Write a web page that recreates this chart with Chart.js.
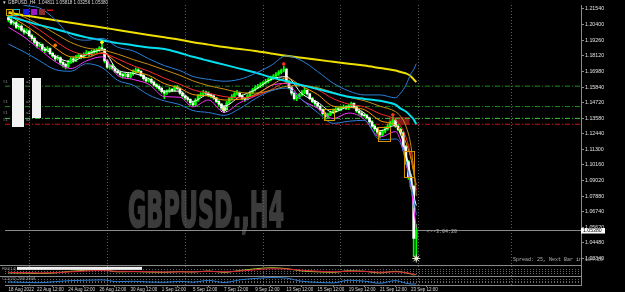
<!DOCTYPE html>
<html>
<head>
<meta charset="utf-8">
<script src="https://cdn.jsdelivr.net/npm/chart.js@4.4.1/dist/chart.umd.min.js"></script>
<style>
html,body{margin:0;padding:0;background:#000;overflow:hidden}
#c{display:block}
</style>
</head>
<body>
<canvas id="c" width="625" height="292"></canvas>
<script>
// GBPUSD H4, 18 Aug - 26 Sep 2022, one entry per bar
const firstOpen = 1.2095;
const closes = [
  1.2075,1.2050,1.2055,1.2020,1.2030,1.2000, 1.1985,1.1995,1.1960,1.1940,1.1910,1.1885,
  1.1895,1.1860,1.1850,1.1865,1.1830,1.1810, 1.1790,1.1800,1.1765,1.1750,1.1735,1.1770,
  1.1790,1.1780,1.1805,1.1815,1.1800,1.1825, 1.1835,1.1820,1.1845,1.1840,1.1855,1.1870,
  1.1860,1.1775,1.1730,1.1740,1.1720,1.1700, 1.1690,1.1675,1.1665,1.1680,1.1660,1.1680,
  1.1695,1.1710,1.1700,1.1670,1.1645,1.1630, 1.1640,1.1620,1.1600,1.1590,1.1575,1.1550,
  1.1540,1.1555,1.1565,1.1560,1.1585,1.1575, 1.1540,1.1520,
  1.1505,1.1495,1.1470,1.1455,1.1490,1.1520,1.1530,1.1545,1.1540,1.1525,1.1520,1.1505,1.1480,1.1460,1.1435,1.1420,
  1.1470,1.1500,1.1515,1.1535,1.1545,1.1520,1.1500,1.1495,1.1520,1.1545,1.1565,1.1580,1.1590,1.1600,1.1615,1.1625,
  1.1640,1.1650,1.1665,1.1680,1.1690,1.1705,1.1715,1.1625,1.1580,1.1540,1.1500,1.1510,1.1530,1.1545,1.1560,1.1535,
  1.1500,1.1480,1.1465,1.1445,1.1420,1.1390,1.1370,1.1385,1.1400,1.1410,1.1425,1.1420,1.1435,1.1440,1.1430,1.1450,
  1.1465,1.1440,1.1410,1.1395,1.1380,1.1375,1.1360,1.1330,1.1300,1.1280,1.1255,1.1235,1.1260,1.1280,1.1300,1.1320,1.1340,1.1300,1.1275,1.1250,
  1.1150,1.1040,1.0930,1.0860,1.0481,1.0538
];
const highs = [
  1.2110,1.2085,1.2070,1.2065,1.2045,1.2040, 1.2015,1.2010,1.2000,1.1970,1.1950,1.1920,
  1.1910,1.1900,1.1875,1.1880,1.1870,1.1840, 1.1820,1.1815,1.1805,1.1775,1.1760,1.1780,
  1.1800,1.1805,1.1815,1.1830,1.1825,1.1835, 1.1850,1.1845,1.1855,1.1860,1.1865,1.1880,
  1.1900,1.1865,1.1785,1.1750,1.1750,1.1730, 1.1715,1.1700,1.1685,1.1690,1.1690,1.1690,
  1.1710,1.1725,1.1720,1.1705,1.1680,1.1655, 1.1650,1.1650,1.1630,1.1610,1.1600,1.1585,
  1.1560,1.1565,1.1580,1.1575,1.1595,1.1595, 1.1580,1.1550,
  1.1525,1.1515,1.1500,1.1480,1.1500,1.1530,1.1545,1.1560,1.1555,1.1550,1.1535,1.1530,1.1510,1.1490,1.1465,1.1445,
  1.1480,1.1510,1.1530,1.1545,1.1560,1.1550,1.1530,1.1510,1.1530,1.1555,1.1575,1.1595,1.1605,1.1615,1.1625,1.1640,
  1.1650,1.1665,1.1675,1.1690,1.1705,1.1715,1.1738,1.1720,1.1635,1.1590,1.1550,1.1525,1.1540,1.1560,1.1575,1.1565,
  1.1540,1.1510,1.1490,1.1475,1.1450,1.1425,1.1400,1.1395,1.1410,1.1425,1.1435,1.1435,1.1445,1.1455,1.1450,1.1460,
  1.1475,1.1470,1.1445,1.1420,1.1405,1.1390,1.1385,1.1365,1.1340,1.1310,1.1290,1.1265,1.1270,1.1295,1.1315,1.1335,1.1370,1.1350,1.1310,1.1285,
  1.1260,1.1160,1.1050,1.0950,1.0870,1.0582
];
const lows = [
  1.2060,1.2040,1.2035,1.2010,1.2005,1.1990, 1.1970,1.1975,1.1950,1.1925,1.1900,1.1870,
  1.1875,1.1850,1.1835,1.1840,1.1820,1.1800, 1.1775,1.1780,1.1750,1.1730,1.1717,1.1725,
  1.1760,1.1765,1.1770,1.1795,1.1790,1.1795, 1.1815,1.1810,1.1815,1.1830,1.1835,1.1845,
  1.1850,1.1760,1.1720,1.1715,1.1710,1.1690, 1.1680,1.1660,1.1650,1.1655,1.1648,1.1650,
  1.1670,1.1685,1.1690,1.1660,1.1635,1.1620, 1.1620,1.1610,1.1590,1.1575,1.1560,1.1540,
  1.1500,1.1530,1.1545,1.1550,1.1555,1.1565, 1.1530,1.1510,
  1.1490,1.1480,1.1455,1.1444,1.1450,1.1480,1.1510,1.1520,1.1530,1.1515,1.1505,1.1495,1.1470,1.1445,1.1425,1.1405,
  1.1415,1.1460,1.1490,1.1505,1.1525,1.1510,1.1490,1.1480,1.1490,1.1515,1.1535,1.1555,1.1570,1.1580,1.1590,1.1605,
  1.1615,1.1630,1.1640,1.1655,1.1670,1.1680,1.1695,1.1610,1.1570,1.1525,1.1490,1.1485,1.1500,1.1520,1.1535,1.1525,
  1.1490,1.1470,1.1450,1.1435,1.1410,1.1380,1.1351,1.1360,1.1375,1.1390,1.1400,1.1410,1.1410,1.1425,1.1420,1.1420,
  1.1440,1.1430,1.1400,1.1385,1.1370,1.1365,1.1350,1.1320,1.1290,1.1265,1.1240,1.1211,1.1225,1.1250,1.1270,1.1290,1.1310,1.1290,1.1265,1.1235,
  1.1130,1.1020,1.0910,1.0840,1.0350,1.0326
];

// indicator lines, read at these bars
const maBars   = [0,6,12,18,24,30,36,42,48,54,60,66,71,77,83,89,95,101,107,113,119,125,131,137,143,149,151,153,155,156,157];
const slowMA   = [1.2126,1.2108,1.2090,1.2072,1.2054,1.2036,1.2019,1.2001,1.1983,1.1965,1.1947,1.1930,1.1912,1.1894,1.1876,1.1862,1.1848,1.1830,1.1812,1.1798,1.1783,1.1769,1.1755,1.1741,1.1723,1.1705,1.1694,1.1684,1.1662,1.1641,1.1620];
const midMA    = [1.2101,1.2069,1.2036,1.2008,1.1976,1.1947,1.1926,1.1905,1.1890,1.1873,1.1862,1.1833,1.1805,1.1776,1.1748,1.1719,1.1691,1.1655,1.1627,1.1598,1.1570,1.1541,1.1513,1.1498,1.1484,1.1456,1.1427,1.1406,1.1370,1.1349,1.1313];
const bandUp   = [1.2240,1.2182,1.2161,1.2076,1.1954,1.1926,1.1940,1.1876,1.1848,1.1791,1.1741,1.1705,1.1662,1.1641,1.1627,1.1641,1.1684,1.1741,1.1812,1.1776,1.1698,1.1613,1.1556,1.1527,1.1527,1.1506,1.1541,1.1598,1.1684,1.1712,1.1755];
const bandDown = [1.1898,1.1841,1.1776,1.1712,1.1700,1.1755,1.1727,1.1634,1.1598,1.1527,1.1484,1.1456,1.1413,1.1399,1.1378,1.1427,1.1499,1.1556,1.1577,1.1491,1.1399,1.1320,1.1335,1.1342,1.1200,1.1206,1.1171,1.1043,1.0864,1.0772,1.0651];
const fastW    = [1.2085,1.1995,1.1900,1.1810,1.1770,1.1820,1.1855,1.1710,1.1685,1.1645,1.1555,1.1555,1.1480,1.1530,1.1445,1.1515,1.1565,1.1640,1.1660,1.1535,1.1475,1.1400,1.1440,1.1395,1.1265,1.1305,1.1240,1.1100,1.0930,1.0800,1.0720];
const fastO    = [1.2110,1.2040,1.1960,1.1870,1.1805,1.1800,1.1835,1.1760,1.1700,1.1670,1.1610,1.1575,1.1530,1.1520,1.1490,1.1495,1.1530,1.1595,1.1650,1.1590,1.1530,1.1445,1.1435,1.1420,1.1340,1.1305,1.1260,1.1180,1.1060,1.0960,1.0870];
const fastR    = [1.2125,1.2070,1.2000,1.1920,1.1850,1.1820,1.1830,1.1790,1.1740,1.1700,1.1650,1.1605,1.1565,1.1540,1.1515,1.1505,1.1520,1.1565,1.1615,1.1600,1.1565,1.1500,1.1460,1.1440,1.1390,1.1345,1.1300,1.1220,1.1080,1.0990,1.0830];
const fastG    = [1.2140,1.2095,1.2040,1.1975,1.1910,1.1870,1.1855,1.1825,1.1785,1.1750,1.1710,1.1670,1.1630,1.1595,1.1570,1.1545,1.1540,1.1560,1.1590,1.1595,1.1580,1.1545,1.1510,1.1485,1.1445,1.1405,1.1370,1.1300,1.1150,1.0980,1.0790];
const lowEnv   = [1.2020,1.1950,1.1860,1.1770,1.1720,1.1775,1.1805,1.1670,1.1640,1.1605,1.1515,1.1510,1.1440,1.1490,1.1400,1.1470,1.1520,1.1595,1.1610,1.1490,1.1430,1.1355,1.1395,1.1350,1.1220,1.1260,1.1190,1.1030,1.0850,1.0700,1.0560];

// sub windows
const oscA = [30,28,25,30,45,55,60,40,42,38,35,42,38,48,35,52,68,78,70,48,40,35,50,45,30,45,40,30,20,12,15];
const oscB = [35,33,30,32,40,48,52,45,44,41,38,40,40,44,40,47,58,68,66,55,46,40,45,44,36,40,38,32,25,18,16];
const cci  = [-80,-100,-120,-60,0,20,40,-60,-40,-80,-100,-40,-90,10,-110,40,120,170,140,-40,-100,-130,20,-30,-150,0,-60,-150,-190,-200,-180];
const oscLevels = [30,50,70];
const cciLevels = [-100,0,100];

// signals [bar, price]
const orangeSig = [[18,1.1889]];
const greenSig  = [[24,1.1767]];
const yellowSig = [[36,1.1911]];
const redSig    = [[106,1.1753],[148,1.1382]];
const sunSig    = [[83,1.1424],[157,1.0334]];

// levels and zones
const greenLevels = [1.1591, 1.1442];
const brightLevel = 1.1356;
const redLevel = 1.1313;
const lastPrice = 1.0538;
const boxFrom = [121.6, 142.2, 152.1];
const boxTo   = [125.4, 146.8, 155.9];
const boxHi   = [1.1424, 1.1295, 1.1115];
const boxLo   = [1.1345, 1.1194, 1.0922];
const zoneRed = [146.4, 154.4, 1.1366, 1.1309];

// axes
const priceTicks = [1.2154,1.2040,1.1926,1.1812,1.1698,1.1584,1.1472,1.1358,1.1244,1.1130,1.1016,1.0902,1.0788,1.0674,1.0562,1.0448,1.0334];
const timeBars = [0,11,23,35,47,59,71,83,95,107,119,131,143,155];
const timeLabels = ['18 Aug 2022','22 Aug 12:00','24 Aug 12:00','26 Aug 12:00','30 Aug 12:00','1 Sep 12:00','5 Sep 12:00','7 Sep 12:00','9 Sep 12:00','13 Sep 12:00','15 Sep 12:00','19 Sep 12:00','21 Sep 12:00','23 Sep 12:00'];
const gridBars = [7.8, 37.8, 67.8, 97.8, 127.7, 157.8, 193.3];

const X_MIN = -1.336, X_MAX = 220.42;

const opens = closes.map((c, i) => i === 0 ? firstOpen : closes[i - 1]);
const wickData = closes.map((c, i) => ({ x: i, y: [lows[i], highs[i]] }));
const bodyData = closes.map((c, i) => ({ x: i, y: [opens[i], c] }));
const bodyColors = closes.map((c, i) => c >= opens[i] ? '#00ff00' : '#ffffff');

function ma(vals, color, width, axis) {
    return {
        type: 'line', data: maBars.map((b, k) => ({ x: b, y: vals[k] })),
        borderColor: color, borderWidth: width, pointRadius: 0, tension: 0.35,
        cubicInterpolationMode: 'monotone', fill: false, yAxisID: axis || 'y', order: 3
    };
}
function hline(p, color, dash) {
    return {
        type: 'line', data: [{ x: X_MIN, y: p }, { x: X_MAX, y: p }],
        borderColor: color, borderWidth: 1, borderDash: dash, pointRadius: 0, yAxisID: 'y', order: 20
    };
}
function dots(list, color, r) {
    return {
        type: 'scatter', data: list.map(d => ({ x: d[0], y: d[1] })),
        backgroundColor: color, borderColor: color, pointRadius: r, borderWidth: 0, yAxisID: 'y', order: 1
    };
}

const datasets = [
    hline(greenLevels[0], '#1f8a1f', [5, 2, 1, 2]),
    hline(greenLevels[1], '#1f8a1f', [5, 2, 1, 2]),
    hline(brightLevel, '#3cc83c', [5, 2, 1, 2]),
    hline(redLevel, '#c81414', [5, 2, 1, 2]),
    hline(lastPrice, '#8c8c8c', []),
    { type: 'bar', data: wickData, backgroundColor: '#00ff00', barThickness: 1, grouped: false, order: 8, yAxisID: 'y' },
    { type: 'bar', data: bodyData, backgroundColor: bodyColors, barThickness: 2, grouped: false, minBarLength: 1, order: 7, yAxisID: 'y' },
    ma(bandUp, '#2a7fd8', 1),
    ma(bandDown, '#2a7fd8', 1),
    ma(slowMA, '#f0e000', 2),
    ma(midMA, '#00e0f0', 2),
    ma(fastG, '#c89010', 1),
    ma(fastR, '#ff2a2a', 1),
    ma(fastO, '#ff9a00', 1),
    ma(lowEnv, '#ff30ff', 1),
    ma(fastW, '#ffffff', 1),
    ma(oscB, '#e02040', 1, 'yr'),
    ma(oscA, '#a8c830', 1, 'yr'),
    ma(cci, '#2a7fd8', 1, 'yc'),
    dots(orangeSig, '#ff7a00', 1.8),
    dots(greenSig, '#00ff00', 1.8),
    dots(yellowSig, '#ffff00', 1.8),
    dots(redSig, '#ff3020', 1.8),
    { type: 'scatter', data: sunSig.map(d => ({ x: d[0], y: d[1] })), pointStyle: 'star', pointRadius: 4,
      borderColor: '#e8e8e8', borderWidth: 1, backgroundColor: 'transparent', yAxisID: 'y', order: 1 },
    dots(sunSig, '#ffff00', 2)
];

const decor = {
    id: 'decor',
    beforeDraw(chart) {
        const c = chart.ctx;
        c.save();
        c.fillStyle = '#000';
        c.fillRect(0, 0, chart.width, chart.height);
        c.restore();
    },
    beforeDatasetsDraw(chart) {
        const c = chart.ctx, a = chart.chartArea, xs = chart.scales.x, ys = chart.scales.y;
        c.save();
        // watermark
        const mark = 'GBPUSD.,H4';
        c.font = 'bold 50px "Liberation Sans Narrow", "DejaVu Sans Condensed", sans-serif';
        const w = c.measureText(mark).width;
        c.save();
        c.translate(128, 226.5);
        c.scale(156 / w, 1);
        c.fillStyle = '#3b3b3b';
        c.strokeStyle = '#3b3b3b';
        c.lineWidth = 2;
        c.lineJoin = 'round';
        c.textBaseline = 'alphabetic';
        c.fillText(mark, 0, 0);
        c.strokeText(mark, 0, 0);
        c.restore();
        // weekly grid
        c.strokeStyle = '#5c5c5c';
        c.lineWidth = 1;
        c.setLineDash([1, 2]);
        gridBars.forEach(b => {
            const x = Math.round(xs.getPixelForValue(b)) + 0.5;
            c.beginPath(); c.moveTo(x, a.top); c.lineTo(x, a.bottom); c.stroke();
        });
        // sub window levels
        c.strokeStyle = '#666';
        [['yr', oscLevels], ['yc', cciLevels]].forEach(([id, lv]) => {
            const s = chart.scales[id];
            lv.forEach(v => {
                const y = Math.round(s.getPixelForValue(v)) + 0.5;
                c.beginPath(); c.moveTo(a.left, y); c.lineTo(a.right, y); c.stroke();
            });
        });
        c.setLineDash([]);
        // separators
        c.strokeStyle = '#8a8a8a';
        ['yr', 'yc'].forEach(id => {
            const y = Math.round(chart.scales[id].top) + 0.5;
            c.beginPath(); c.moveTo(0, y); c.lineTo(a.right, y); c.stroke();
        });
        // red zone
        const zx0 = xs.getPixelForValue(zoneRed[0]), zx1 = xs.getPixelForValue(zoneRed[1]);
        const zy0 = ys.getPixelForValue(zoneRed[2]), zy1 = ys.getPixelForValue(zoneRed[3]);
        c.fillStyle = 'rgba(150,30,30,0.85)';
        c.fillRect(zx0, zy0, zx1 - zx0, zy1 - zy0);
        c.restore();
    },
    afterDraw(chart) {
        const c = chart.ctx, xs = chart.scales.x, ys = chart.scales.y;
        c.save();
        // zone boxes
        const boxColors = ['#c8a000', '#d89000', '#d89000'];
        c.lineWidth = 1;
        boxFrom.forEach((b, k) => {
            const x0 = xs.getPixelForValue(b), x1 = xs.getPixelForValue(boxTo[k]);
            const y0 = ys.getPixelForValue(boxHi[k]), y1 = ys.getPixelForValue(boxLo[k]);
            c.strokeStyle = boxColors[k];
            c.strokeRect(Math.round(x0) + 0.5, Math.round(y0) + 0.5, Math.round(x1 - x0), Math.round(y1 - y0));
        });
        c.textBaseline = 'middle';
        // header
        c.font = '4.6px "Liberation Sans"';
        c.fillStyle = '#d8d8d8';
        c.fillText('\u25BC GBPUSD.,H4  1.04811 1.05818 1.03256 1.05380', 2, 3);
        // object panel icons
        c.strokeStyle = '#c8a000'; c.strokeRect(6.5, 9.5, 6, 6);
        c.strokeStyle = '#00c8c8'; c.strokeRect(13.5, 9.5, 6, 6);
        c.fillStyle = '#1a1ae0'; c.fillRect(23, 9, 6, 6);
        c.fillStyle = '#9a18c8'; c.fillRect(31, 9, 6, 6);
        c.fillStyle = '#8a2c2c'; c.fillRect(39, 9, 6, 6);
        c.fillStyle = '#e01010'; c.fillRect(47, 9.5, 6, 1.5);
        // left object labels
        c.fillStyle = '#f2f2f2';
        c.fillRect(12, 78, 12, 49);
        c.fillRect(32, 78, 9, 40);
        c.font = '4px "Liberation Sans"';
        c.fillStyle = '#9a9a9a';
        [82, 102, 113, 120].forEach(y => { c.fillText('#1', 3, y); c.fillText('u2', 26, y); });
        // sub window captions
        const r = chart.scales.yr, q = chart.scales.yc;
        c.font = '4.2px "Liberation Sans"';
        c.fillStyle = '#a0a0a0';
        c.fillText('RSI(14)', 2, r.top + 3);
        c.fillStyle = '#f0f0f0';
        c.fillRect(17, r.top + 1.5, 125, 3);
        c.fillStyle = '#a0a0a0';
        c.fillText('CCI(20) 288.3308', 2, q.top + 3);
        // texts
        c.font = '5px "Liberation Mono"';
        c.fillStyle = '#b4b4b4';
        c.fillText('<--3:04:20', 427, ys.getPixelForValue(lastPrice) + 1.5);
        c.fillText('Spread: 25, Next Bar in 184:20', 513, 260);
        // last price tag
        const py = ys.getPixelForValue(lastPrice);
        c.fillStyle = '#ffffff';
        c.fillRect(581, py - 2.5, 24, 5.5);
        c.fillStyle = '#000';
        c.font = '5.2px "Liberation Sans"';
        c.fillText(lastPrice.toFixed(5), 583, py + 0.3);
        c.restore();
    }
};

const axisFont = { family: 'Liberation Sans', size: 5.3 };

new Chart(document.getElementById('c'), {
    type: 'line',
    data: { datasets },
    options: {
        responsive: false,
        animation: false,
        events: [],
        devicePixelRatio: 1,
        layout: { padding: 0 },
        plugins: { legend: { display: false }, tooltip: { enabled: false } },
        scales: {
            x: {
                type: 'linear', min: X_MIN, max: X_MAX, offset: false, position: 'bottom',
                afterBuildTicks: s => { s.ticks = timeBars.map(v => ({ value: v })); },
                afterFit: s => { s.height = 7; },
                ticks: { autoSkip: false, maxRotation: 0, align: 'start', padding: 0, color: '#d8d8d8',
                         font: { family: 'Liberation Sans', size: 4.5 }, callback: (v, i) => timeLabels[i] },
                grid: { drawOnChartArea: false, drawTicks: true, tickLength: 2, color: '#8a8a8a' },
                border: { color: '#8a8a8a' }
            },
            y: {
                type: 'linear', position: 'right', stack: 'win', stackWeight: 265,
                min: 1.0284, max: 1.2183,
                afterBuildTicks: s => { s.ticks = priceTicks.map(v => ({ value: v })); },
                afterFit: s => { s.width = 44; },
                ticks: { autoSkip: false, padding: 1, color: '#e0e0e0', font: axisFont, callback: v => v.toFixed(5) },
                grid: { drawOnChartArea: false, drawTicks: true, tickLength: 3, color: '#8a8a8a' },
                border: { color: '#8a8a8a' }
            },
            yr: {
                type: 'linear', position: 'right', stack: 'win', stackWeight: 11, min: 0, max: 100,
                afterBuildTicks: s => { s.ticks = []; },
                afterFit: s => { s.width = 44; },
                ticks: { display: false },
                grid: { drawOnChartArea: false, drawTicks: false },
                border: { color: '#8a8a8a' }
            },
            yc: {
                type: 'linear', position: 'right', stack: 'win', stackWeight: 9, min: -250, max: 250,
                afterBuildTicks: s => { s.ticks = []; },
                afterFit: s => { s.width = 44; },
                ticks: { display: false },
                grid: { drawOnChartArea: false, drawTicks: false },
                border: { color: '#8a8a8a' }
            }
        }
    },
    plugins: [decor]
});
</script>
</body>
</html>
